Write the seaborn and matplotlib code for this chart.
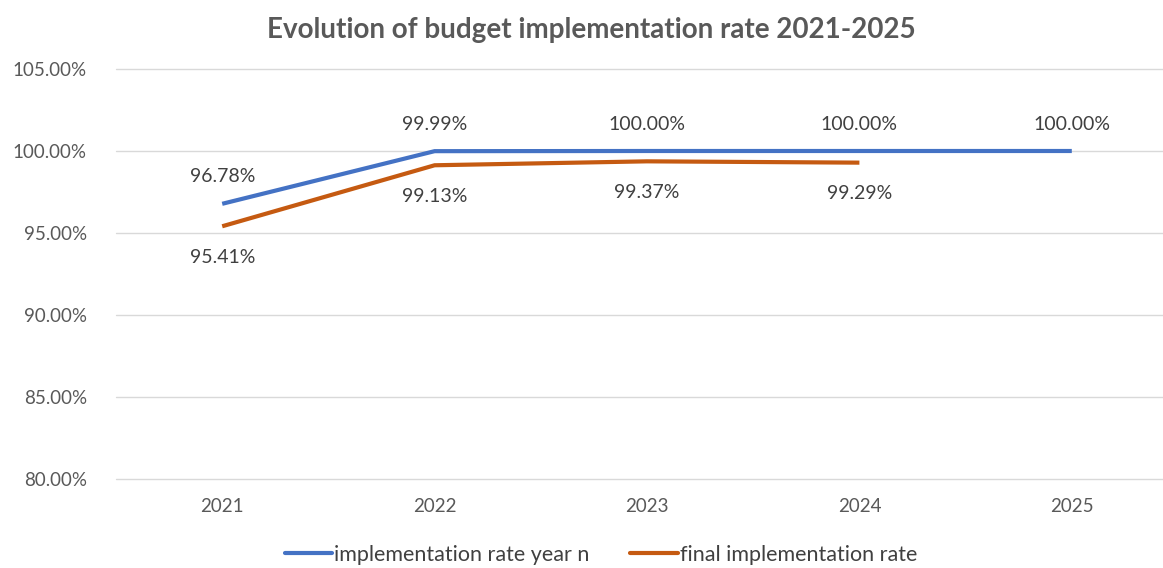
import numpy as np
import pandas as pd
import matplotlib
matplotlib.use("Agg")
import matplotlib.pyplot as plt
import seaborn as sns

# Budget implementation rates (%) per year
years = ["2021", "2022", "2023", "2024", "2025"]
rate_year_n = [96.78, 99.99, 100.00, 100.00, 100.00]
rate_final = [95.41, 99.13, 99.37, 99.29, np.nan]
series_names = ["implementation rate year n", "final implementation rate"]
y_ticks = [80, 85, 90, 95, 100, 105]

BLUE = "#4472C4"
ORANGE = "#C55A11"
GRID = "#D9D9D9"
AXIS_TXT = "#595959"
LABEL_TXT = "#404040"

sns.set_theme(style="white")
plt.rcParams["font.family"] = ["Lato", "DejaVu Sans"]

df = pd.DataFrame({
    "year": years * 2,
    "rate": rate_year_n + rate_final,
    "series": [series_names[0]] * len(years) + [series_names[1]] * len(years),
})
df["pos"] = list(range(len(years))) * 2

fig = plt.figure(figsize=(11.63, 5.68), dpi=100)
W, H = 1163, 568
ax = fig.add_axes([116 / W, 1 - 479 / H, 1062 / W, 410 / H])

sns.lineplot(data=df, x="pos", y="rate", hue="series",
             palette=[BLUE, ORANGE], linewidth=3, ax=ax, legend=False,
             sort=False)
for ln in ax.lines:
    ln.set_solid_capstyle("butt")
    ln.set_solid_joinstyle("miter")

ax.set_xlim(-0.5, len(years) - 0.5)
ax.set_ylim(80, 105)
ax.set_yticks(y_ticks)
ax.set_yticklabels([f"{v:.2f}%" for v in y_ticks])
ax.set_xticks(range(len(years)))
ax.set_xticklabels(years)
ax.tick_params(axis="both", length=0, labelsize=13.5, labelcolor=AXIS_TXT)
ax.tick_params(axis="y", pad=21)
ax.tick_params(axis="x", pad=14)
ax.set_xlabel("")
ax.set_ylabel("")
ax.grid(axis="y", color=GRID, linewidth=1)
for gl in ax.get_ygridlines():
    gl.set_clip_on(False)
ax.set_axisbelow(True)
for s in ax.spines.values():
    s.set_visible(False)

# Value labels: year-n rates above, final rates below
for i, v in enumerate(rate_year_n):
    ax.annotate(f"{v:.2f}%", (i, v), xytext=(0, 27), textcoords="offset pixels",
                ha="center", va="center", fontsize=14, color=LABEL_TXT)
for i, v in enumerate(rate_final):
    if np.isnan(v):
        continue
    ax.annotate(f"{v:.2f}%", (i, v), xytext=(0, -31), textcoords="offset pixels",
                ha="center", va="center", fontsize=14, color=LABEL_TXT)

fig.text(591 / W, 1 - 30 / H, "Evolution of budget implementation rate 2021-2025",
         ha="center", va="center", fontsize=20, fontweight="bold", color=AXIS_TXT)

handles = [plt.Line2D([], [], color=BLUE, linewidth=3),
           plt.Line2D([], [], color=ORANGE, linewidth=3)]
fig.legend(handles, series_names, loc="center", bbox_to_anchor=(601 / W, 1 - 555 / H),
           ncol=2, frameon=False, fontsize=15.5, handlelength=2.2,
           handletextpad=0.08, columnspacing=1.9, labelcolor=LABEL_TXT)

fig.savefig("out.png", dpi=100, facecolor="white")
